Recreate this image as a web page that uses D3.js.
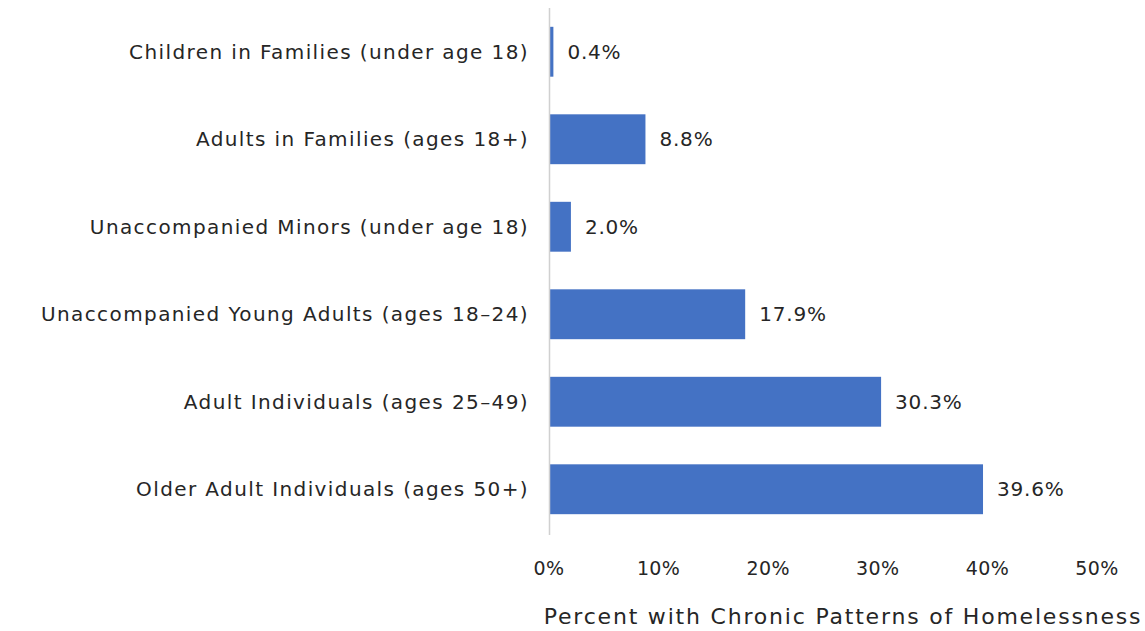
<!DOCTYPE html>
<html>
<head>
<meta charset="utf-8">
<script src="https://cdn.jsdelivr.net/npm/d3@7"></script>
<style>
  body { margin: 0; background: #fff; }
  text { font-family: "DejaVu Sans", sans-serif; fill: #262626; }
</style>
</head>
<body>
<div id="chart"></div>
<script>
const categories = [
  "Children in Families (under age 18)",
  "Adults in Families (ages 18+)",
  "Unaccompanied Minors (under age 18)",
  "Unaccompanied Young Adults (ages 18\u201324)",
  "Adult Individuals (ages 25\u201349)",
  "Older Adult Individuals (ages 50+)"
];
const values = [0.4, 8.8, 2.0, 17.9, 30.3, 39.6];
const xTicks = [0, 10, 20, 30, 40, 50];
const xTitle = "Percent with Chronic Patterns of Homelessness";

const width = 1145, height = 631;
const margin = { top: 8, right: 48, bottom: 98, left: 549 };
const innerW = width - margin.left - margin.right;
const innerH = height - margin.top - margin.bottom;

const svg = d3.select("#chart")
  .append("svg")
    .attr("width", width)
    .attr("height", height);

const g = svg.append("g")
  .attr("transform", `translate(${margin.left},${margin.top})`);

const x = d3.scaleLinear()
  .domain([0, 50])
  .range([0, innerW]);

const y = d3.scaleBand()
  .domain(categories)
  .range([0, innerH])
  .paddingInner(0.43)
  .paddingOuter(0.215);

g.selectAll("rect.bar")
  .data(categories)
  .enter()
  .append("rect")
    .attr("class", "bar")
    .attr("x", x(0))
    .attr("y", d => y(d))
    .attr("width", (d, i) => x(values[i]) - x(0))
    .attr("height", y.bandwidth())
    .attr("fill", "#4472C4");

// value labels
g.selectAll("text.val")
  .data(categories)
  .enter()
  .append("text")
    .attr("class", "val")
    .attr("x", (d, i) => x(values[i]) + 14)
    .attr("y", d => y(d) + y.bandwidth() / 2)
    .attr("dy", "0.35em")
    .style("font-size", "20px")
    .style("letter-spacing", "0.8px")
    .text((d, i) => d3.format(".1f")(values[i]) + "%");

// category labels
g.selectAll("text.cat")
  .data(categories)
  .enter()
  .append("text")
    .attr("class", "cat")
    .attr("x", -20)
    .attr("y", d => y(d) + y.bandwidth() / 2)
    .attr("dy", "0.35em")
    .attr("text-anchor", "end")
    .style("font-size", "20px")
    .style("letter-spacing", "1.4px")
    .text(d => d);

// vertical axis line
g.append("line")
  .attr("x1", 0.5).attr("x2", 0.5)
  .attr("y1", 0).attr("y2", innerH + 2)
  .attr("stroke", "#d0d0d0")
  .attr("stroke-width", 1.5);

// x tick labels
g.selectAll("text.tick")
  .data(xTicks)
  .enter()
  .append("text")
    .attr("class", "tick")
    .attr("x", d => x(d))
    .attr("y", innerH + 35)
    .attr("dy", "0.35em")
    .attr("text-anchor", "middle")
    .style("font-size", "19px")
    .style("letter-spacing", "0.4px")
    .text(d => d + "%");

svg.append("text")
  .attr("x", 843)
  .attr("y", 616)
  .attr("dy", "0.35em")
  .attr("text-anchor", "middle")
  .style("font-size", "22px")
  .style("letter-spacing", "1.8px")
  .text(xTitle);
</script>
</body>
</html>
